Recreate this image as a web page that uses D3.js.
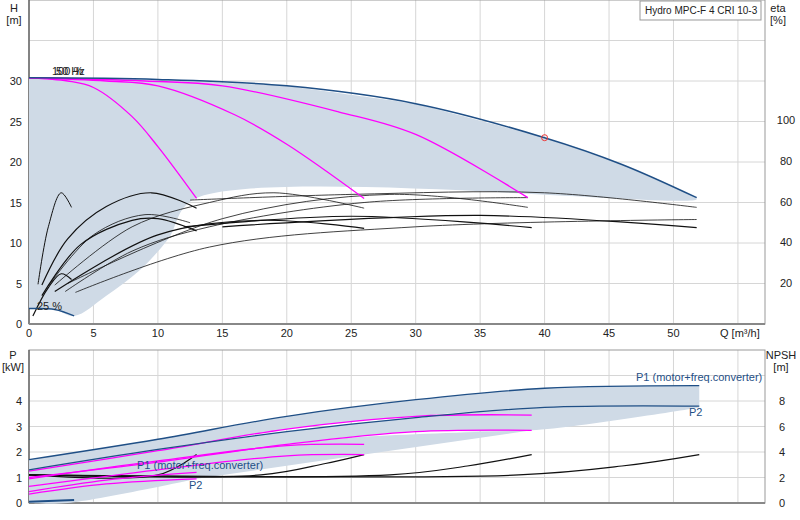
<!DOCTYPE html>
<html><head><meta charset="utf-8">
<script src="https://cdn.jsdelivr.net/npm/d3@7"></script>
<style>body{margin:0;background:#fff}text{font-family:"Liberation Sans",Arial,sans-serif;font-size:11px;fill:#222}</style>
</head><body><svg id="c" width="800" height="520"></svg>
<script>
const qTicks=[0,5,10,15,20,25,30,35,40,45,50,55];
const hTicks=[0,5,10,15,20,25,30];
const etaTicks=[20,40,60,80,100];
const pTicks=[0,1,2,3,4];
const npshTicks=[0,2,4,6,8];
const envelopeH=[[0,30.4],[10,30.2],[20,29.4],[30,27.2],[40,23],[46,19.7],[51.8,15.6]];
const pump1H=[[0,30.4],[3,30],[5,29.2],[8,25.6],[10,21.9],[13,15.5]];
const pump2H=[[0,30.4],[6,30],[10,29.4],[16,25.8],[20,22.2],[26,15.5]];
const pump3H=[[0,30.4],[9,30],[15,29.4],[24,26.2],[30,23.4],[38.7,15.6]];
const minH=[[0,1.9],[2,1.8],[3.5,1.0]];
const shadeLeft=[[12.8,15.4],[10.8,10.5],[8.5,6.5],[6,3.5],[3.5,1.0]];
const effCurves=[
 {w:1,p:[[0.7,4.9],[1.5,12],[2.5,16.2],[3.3,14.4]]},
 {w:1.2,p:[[1,4.8],[3,10.5],[6,14.5],[9.5,16.2],[13,14.3]]},
 {w:0.8,p:[[2,4.8],[8,12],[14,15],[19,16.2],[26,14.3]]},
 {w:0.8,p:[[3,5],[15,13],[28,16],[38.7,14.4]]},
 {w:0.8,p:[[12.5,15.3],[25,16],[40,16.2],[51.8,14.4]]},
 {w:1.2,p:[[1,3.5],[4,9.8],[8,12.8],[10,13],[13,11.5]]},
 {w:1.2,p:[[2,4],[10,11],[18,12.8],[26,11.8]]},
 {w:1.2,p:[[12,12],[25,13.3],[39,11.9]]},
 {w:1.2,p:[[15,12],[35,13.4],[51.8,11.9]]},
 {w:0.8,p:[[1.5,4.7],[5,11],[9,13.5],[12.5,12.5]]},
 {w:0.8,p:[[2.8,4],[8,9],[14,12],[26,15],[38.7,15.6]]},
 {w:0.8,p:[[3.6,3.9],[14,9.5],[30,12],[51.8,12.9]]},
 {w:1.2,p:[[0.3,1],[1.5,4.5],[2.5,6.2],[3.3,5.5]]}
];
const p1Env=[[0,1.7],[10,2.5],[20,3.4],[30,4.05],[40,4.5],[52,4.6]];
const p2Env=[[0,1.3],[10,2.1],[20,2.8],[30,3.35],[40,3.75],[52,3.8]];
const p1Mag=[[[0,1.25],[10,2.05],[20,2.9],[30,3.4],[39,3.45]],[[0,0.95],[10,1.65],[20,2.25],[26,2.3]],[[0,0.45],[6,0.9],[13,1.2]]];
const p2Mag=[[[0,1.0],[10,1.6],[20,2.3],[30,2.8],[39,2.85]],[[0,0.65],[10,1.3],[20,1.85],[26,1.9]],[[0,0.35],[6,0.75],[13,0.95]]];
const npsh=[[[0,1.1],[10,1.1],[13,1.9]],[[0,1.1],[18,1.1],[23,1.55],[26,1.9]],[[0,1.1],[28,1.1],[34,1.45],[39,1.9]],[[0,1.1],[38,1.1],[46,1.45],[52,1.9]]];
const npshSmall=[[0,0.05],[3.5,0.12]];

const svg=d3.select("#c");
const L=29,R=765;
const x=d3.scaleLinear().domain([0,57.1]).range([L,R]);
const yH=d3.scaleLinear().domain([0,40]).range([324,0]);
const yE=d3.scaleLinear().domain([0,120]).range([324,79]);
const yP=d3.scaleLinear().domain([0,6]).range([503,350]);
const yN=d3.scaleLinear().domain([0,12]).range([503,350]);
const grid="#d6d6d6";
function panel(y0,y1,ys,yt){
  qTicks.forEach(q=>svg.append("line").attr("x1",x(q)).attr("x2",x(q)).attr("y1",y0).attr("y2",y1).attr("stroke",grid));
  yt.forEach(v=>svg.append("line").attr("x1",L).attr("x2",R).attr("y1",ys(v)).attr("y2",ys(v)).attr("stroke",grid));
  svg.append("rect").attr("x",L).attr("y",y0).attr("width",R-L).attr("height",y1-y0).attr("fill","none").attr("stroke","#999");
  svg.append("line").attr("x1",L).attr("x2",L).attr("y1",y0).attr("y2",y1).attr("stroke","#444");
  svg.append("line").attr("x1",L).attr("x2",R).attr("y1",y1).attr("y2",y1).attr("stroke","#888").attr("stroke-width",2);
}
panel(0,324,yH,[0,5,10,15,20,25,30,35]);
panel(350,503,yP,[0,1,2,3,4,5]);
const lineH=d3.line().x(d=>x(d[0])).y(d=>yH(d[1])).curve(d3.curveCatmullRom);
const lineP=d3.line().x(d=>x(d[0])).y(d=>yP(d[1])).curve(d3.curveCatmullRom);
const envInterp=d3.scaleLinear().domain(envelopeH.map(p=>p[0])).range(envelopeH.map(p=>p[1]));
svg.append("path").attr("d",lineH(
  [...d3.range(0,51.81,0.5).map(q=>[q,envInterp(q)]),[51.8,15.4],...shadeLeft,[2,1.8],[0,1.9]]
)).attr("fill","#cfdae6");
function band(a,b){
  svg.append("path").attr("d",lineP(a)+"L"+lineP(b.slice().reverse()).slice(1)+"Z").attr("fill","#cfdae6");
}
band(p1Env,[[0,1.25],[10,2.05],[20,2.9],[30,3.4],[40,3.75],[52,3.8]]);
band(p2Env,[[0,1.0],[10,1.6],[20,2.3],[30,2.8],[39,2.85],[52,3.75]]);
band([[0,1.0],[10,1.6],[20,2.3],[26,2.6],[39,2.85]],[[0,0.65],[10,1.3],[20,1.85],[26,1.9]]);
band([[0,0.65],[10,1.3],[20,1.85],[26,1.9]],[[0,0.35],[6,0.7],[13,0.95]]);
band([[0,0.35],[6,0.75],[13,0.95]],[[0,0],[3,0],[13,0.95]]);
effCurves.forEach(c=>svg.append("path").attr("d",lineH(c.p)).attr("fill","none").attr("stroke","#111").attr("stroke-width",c.w));
[pump1H,pump2H,pump3H].forEach(p=>svg.append("path").attr("d",lineH(p)).attr("fill","none").attr("stroke","#ff00ff").attr("stroke-width",1.3));
svg.append("path").attr("d",lineH(envelopeH)).attr("fill","none").attr("stroke","#1f4f86").attr("stroke-width",1.5);
svg.append("path").attr("d",lineH(minH)).attr("fill","none").attr("stroke","#1f4f86").attr("stroke-width",1.5);
svg.append("circle").attr("cx",x(40)).attr("cy",yH(23)).attr("r",3).attr("fill","none").attr("stroke","#e33");
npsh.forEach(p=>svg.append("path").attr("d",lineP(p)).attr("fill","none").attr("stroke","#111").attr("stroke-width",1.2));
p1Mag.concat(p2Mag).forEach(p=>svg.append("path").attr("d",lineP(p)).attr("fill","none").attr("stroke","#ff00ff").attr("stroke-width",1.3));
[p1Env,p2Env].forEach(p=>svg.append("path").attr("d",lineP(p)).attr("fill","none").attr("stroke","#1f4f86").attr("stroke-width",1.3));
svg.append("path").attr("d",lineP(npshSmall)).attr("fill","none").attr("stroke","#1f4f86").attr("stroke-width",2);
const tx=(t,X,Y,a,c)=>svg.append("text").attr("x",X).attr("y",Y).attr("text-anchor",a||"start").style("fill",c||"#222").text(t);
qTicks.slice(0,11).forEach(q=>tx(q,x(q),337,"middle"));
hTicks.forEach(v=>tx(v,22,yH(v)+4,"end"));
etaTicks.forEach(v=>tx(v,786,yE(v)+4,"middle"));
pTicks.forEach(v=>tx(v,22,yP(v)+4,"end"));
npshTicks.forEach(v=>tx(v,782,yN(v)+4,"middle"));
tx("H",14,12,"middle");tx("[m]",14,24,"middle");
tx("eta",778,12,"middle");tx("[%]",778,24,"middle");
tx("P",13,359,"middle");tx("[kW]",13,371,"middle");
tx("NPSH",781,359,"middle");tx("[m]",781,371,"middle");
tx("Q [m³/h]",720,337);
svg.append("rect").attr("x",640).attr("y",1).attr("width",121).attr("height",19).attr("fill","#fff").attr("stroke","#999");
tx("Hydro MPC-F 4 CRI 10-3",645,14).style("font-size","10px");
tx("100 %",52,75);tx("50 Hz",56,75);
tx("25 %",37,310);
tx("P1 (motor+freq.converter)",636,381,"start","#1f4f86");
tx("P2",689,416,"start","#1f4f86");
tx("P1 (motor+freq.converter)",137,469,"start","#1f4f86");
tx("P2",189,489,"start","#1f4f86");
</script></body></html>
